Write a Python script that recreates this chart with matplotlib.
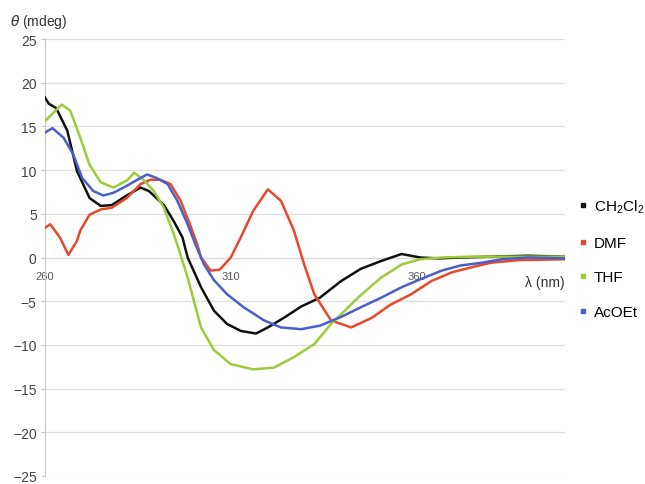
import matplotlib
matplotlib.use("Agg")
import matplotlib.pyplot as plt
from matplotlib.lines import Line2D

plt.rcParams['font.family'] = ['Liberation Sans', 'DejaVu Sans']

# CH2Cl2
black_nm = [260, 261, 263, 266, 268.6, 272, 275, 278, 282, 285.7, 288, 292, 294.6, 297,
            298.4, 302, 305.5, 309, 312.7, 316.8, 320, 324.3, 329, 334, 339.7, 345,
            350.5, 356, 361, 366, 372, 380, 390, 400]
black_th = [18.3, 17.6, 17.1, 14.5, 9.9, 6.8, 5.9, 6.0, 7.1, 8.0, 7.6, 6.0, 4.2, 2.3,
            0.0, -3.4, -6.1, -7.6, -8.4, -8.7, -8.0, -6.9, -5.6, -4.6, -2.7, -1.3,
            -0.4, 0.4, 0.0, -0.1, 0.0, 0.1, 0.2, 0.1]

# DMF
red_nm = [260, 261.4, 264, 266.3, 268.6, 269.5, 272, 275, 278, 282, 285.7, 288.4, 291,
          293.8, 296.5, 299, 301, 302, 304.6, 307, 310, 312.7, 316, 320, 323.5, 327,
          329.7, 332.5, 337, 342.4, 348, 353, 358.6, 364, 369.5, 375, 380, 387.5, 400]
red_th = [3.4, 3.8, 2.3, 0.3, 1.9, 3.1, 4.9, 5.5, 5.7, 6.8, 8.4, 8.9, 8.9,
          8.4, 6.5, 3.8, 1.5, 0.0, -1.5, -1.4, 0.0, 2.3, 5.3, 7.8, 6.5, 3.1,
          -0.7, -4.2, -7.2, -8.0, -6.9, -5.4, -4.2, -2.7, -1.7, -1.1, -0.6, -0.3, -0.2]

# THF
green_nm = [260, 261.4, 264.5, 266.8, 269.5, 272, 275, 278.4, 282, 284, 286.5, 289.3,
            292, 294.3, 295.6, 298.4, 302, 305.5, 310, 316, 321.6, 327, 332.5, 337,
            339.7, 345, 350.5, 356, 361, 366.8, 375, 385, 400]
green_th = [15.6, 16.2, 17.5, 16.8, 13.7, 10.6, 8.6, 8.0, 8.8, 9.7, 8.9, 7.6,
            5.7, 3.1, 1.5, -2.3, -8.0, -10.6, -12.2, -12.8, -12.6, -11.4, -9.9, -7.6,
            -6.5, -4.3, -2.3, -0.8, -0.2, 0.0, 0.1, 0.1, 0.1]

# AcOEt
blue_nm = [260, 262, 265, 267.6, 270, 273, 275.7, 278.4, 282, 285.7, 287.5, 290, 293,
           295.6, 298.4, 300.5, 302.8, 305.5, 309, 313.5, 319, 323.5, 329, 334, 339.7,
           345, 350.5, 356, 361, 366.8, 372, 377.6, 383, 390, 400]
blue_th = [14.3, 14.8, 13.7, 11.8, 9.1, 7.6, 7.1, 7.4, 8.2, 9.1, 9.5, 9.1, 8.4,
           6.5, 3.8, 1.5, -0.8, -2.6, -4.2, -5.7, -7.2, -8.0, -8.2, -7.8, -6.8,
           -5.7, -4.6, -3.4, -2.5, -1.5, -0.9, -0.6, -0.2, 0.0, -0.1]

labels = [r'CH$\mathregular{_2}$Cl$\mathregular{_2}$', 'DMF', 'THF', 'AcOEt']
colors = ['#111111', '#e8492b', '#9dcb3b', '#4a5fcb']
x_ticks = [260, 310, 360]
y_ticks = [-25, -20, -15, -10, -5, 0, 5, 10, 15, 20, 25]

fig = plt.figure(figsize=(6.45, 4.85), dpi=100)
ax = fig.add_axes([0.0698, 0.0165, 0.8062, 0.901])

series = [(black_nm, black_th), (red_nm, red_th), (green_nm, green_th), (blue_nm, blue_th)]
for (xs, ys), c in zip(series, colors):
    ax.plot(xs, ys, color=c, lw=1.8, zorder=3)

ax.set_xlim(260, 400)
ax.set_ylim(-25, 25)
ax.set_yticks(y_ticks)
ax.set_yticklabels([str(v).replace('-', '\u2212') for v in y_ticks])
ax.yaxis.grid(True, color='#dedede', lw=0.9)
ax.set_axisbelow(True)

for s in ['top', 'right']:
    ax.spines[s].set_visible(False)
ax.spines['left'].set_color('#c8c8c8')
ax.spines['bottom'].set_position(('data', 0))
ax.spines['bottom'].set_color('#d8d8d8')

ax.set_xticks(x_ticks)
ax.set_xticklabels([str(v) for v in x_ticks], fontsize=8, color='#555555')
ax.tick_params(axis='x', length=0, pad=10)
ax.tick_params(axis='y', length=3, color='#c8c8c8', labelsize=10, labelcolor='#444444', pad=3)

ax.text(1.0, -2.8, '\u03bb (nm)', transform=ax.get_yaxis_transform(),
        ha='right', va='center', fontsize=10, color='#333333')
fig.text(0.016, 0.955, r'$\theta$ (mdeg)', fontsize=10, color='#333333', va='center')

handles = [Line2D([], [], marker='s', ls='none', color=c, markersize=3) for c in colors]
fig.legend(handles, labels, loc='center left', bbox_to_anchor=(0.885, 0.465),
           frameon=False, fontsize=11, labelspacing=1.35, handletextpad=0.3,
           handlelength=0.8, borderaxespad=0)

fig.savefig('out.png', dpi=100)
